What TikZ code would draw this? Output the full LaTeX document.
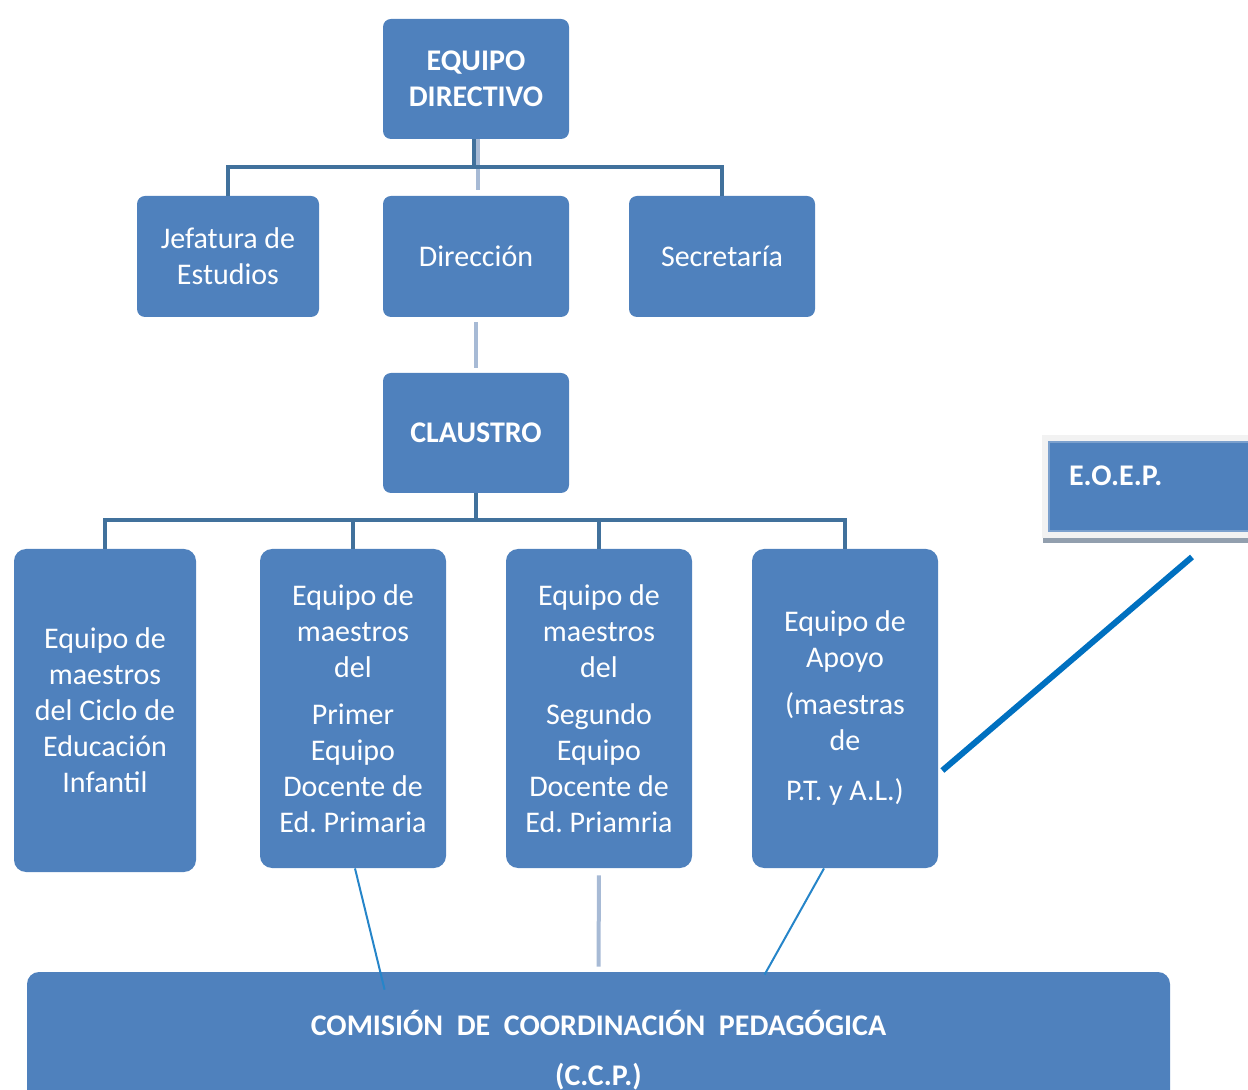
\documentclass[tikz,border=0pt]{standalone}
\usepackage{fontspec}
\setmainfont{Carlito}
\usetikzlibrary{calc}
\definecolor{caja}{HTML}{4F81BD}
\definecolor{barra}{HTML}{41719C}
\definecolor{claro}{HTML}{A7BAD5}
\definecolor{azul}{HTML}{0070C0}
\definecolor{gris}{HTML}{929FAE}
\frenchspacing
\begin{document}
\begin{tikzpicture}[x=0.5pt,y=-0.5pt,
    unidad/.style={fill=caja,rounded corners=4pt,text=white,align=center,inner sep=0pt,font=\fontsize{15}{18}\selectfont},
    titulo/.style={unidad,font=\fontsize{15}{18}\selectfont\bfseries},
    bus/.style={draw=barra,line width=2pt},
    enlace/.style={draw=claro,line width=2pt},
    fino/.style={draw=azul!85!white,line width=1pt}]
    \useasboundingbox (0,0) rectangle (1248,1090);
    % direccion
    \node[titulo,minimum width=93pt,minimum height=60pt] (equipo) at (476,79) {EQUIPO\\DIRECTIVO};
    \node[unidad,minimum width=91pt,minimum height=60.5pt] (jefatura) at (228,256.5) {Jefatura de\\Estudios};
    \node[unidad,minimum width=93pt,minimum height=60.5pt] (direccion) at (476,256.5) {Dirección};
    \node[unidad,minimum width=93pt,minimum height=60.5pt] (secretaria) at (722,256.5) {Secretaría};
    \node[titulo,minimum width=93pt,minimum height=60pt] (claustro) at (476,433) {CLAUSTRO};
    % equipos
    \node[unidad,rounded corners=6pt,minimum width=91pt,minimum height=161.5pt] (infantil) at (105,710.5) {Equipo de\\maestros\\del Ciclo de\\Educación\\Infantil};
    \node[unidad,rounded corners=6pt,minimum width=93pt,minimum height=159.5pt] (primero) at (353,708.5) {Equipo de\\maestros\\del\\[5.5pt]Primer\\Equipo\\Docente de\\Ed. Primaria};
    \node[unidad,rounded corners=6pt,minimum width=93pt,minimum height=159.5pt] (segundo) at (599,708.5) {Equipo de\\maestros\\del\\[5.5pt]Segundo\\Equipo\\Docente de\\Ed. Priamria};
    \node[unidad,rounded corners=6pt,minimum width=93pt,minimum height=159.5pt] (apoyo) at (845,708.5) {Equipo de\\Apoyo\\[5.5pt](maestras\\de\\[7pt]P.T. y A.L.)};
    \node[titulo,rounded corners=6pt,minimum width=571.5pt,minimum height=78pt] (ccp) at (598.5,1050) {COMISIÓN\ \ DE\ \ COORDINACIÓN\ \ PEDAGÓGICA\\[7pt](C.C.P.)};
    \node[titulo,rounded corners=0pt,anchor=north west,draw=caja!75!white,line width=1pt,
        preaction={draw=black!5,line width=7pt},
        minimum width=110pt,text width=90pt,align=left,inner xsep=9pt,inner ysep=0pt,
        text height=22pt,text depth=22.5pt] (eoep) at (1048,441) {E.O.E.P.};
    \draw[draw=gris,line width=2.5pt] ($(eoep.south west)+(-5,9)$) -- ++(215,0);
    % conectores
    \draw[enlace,shorten >=3pt] ([xshift=1pt]equipo.south) -- ([xshift=1pt]direccion.north);
    \draw[bus] ([xshift=-1pt]equipo.south) -- ++(0,28);
    \draw[bus] (jefatura.north) -- ++(0,-29) -| (secretaria.north);
    \draw[enlace,shorten <=2.5pt,shorten >=2.5pt] (direccion.south) -- (claustro.north);
    \draw[bus] (claustro.south) -- ++(0,27);
    \draw[bus] (infantil.north) -- ++(0,-29) -| (apoyo.north);
    \draw[bus] (primero.north) -- ++(0,-29);
    \draw[bus] (segundo.north) -- ++(0,-29);
    \draw[enlace,shorten <=3.5pt,shorten >=2.5pt] (segundo.south) -- (ccp.north);
    \draw[fino] ($(primero.south)+(2,0)$) -- ($(ccp.north west)+(358,18)$);
    \draw[fino] ($(apoyo.south)+(-21,0)$) -- ($(ccp.north west)+(738,3)$);
    \draw[draw=azul,line width=3pt] ($(apoyo.east)+(4,62)$) -- ($(eoep.south west)+(144,25)$);
\end{tikzpicture}
\end{document}
